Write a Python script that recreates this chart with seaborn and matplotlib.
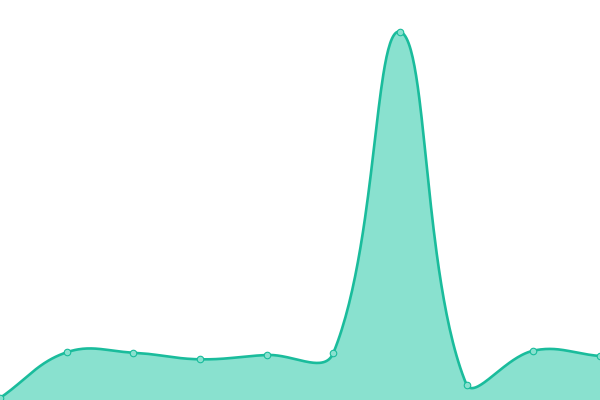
import numpy as np
import matplotlib
matplotlib.use("Agg")
import matplotlib.pyplot as plt
import seaborn as sns

# valores (altura acima da base, escala 0-400)
categories = list(range(10))
values = [2, 47.7, 47.3, 40.7, 45, 47, 368.3, 15, 49.3, 44]

line_color = '#1abc9c'
fill_color = '#89e1cf'
tension = 0.4

W, H = 600, 400
x_min, x_max = 0, 9
y_min, y_max = 0, 400

sns.set_theme(style='white')

# converte para pixels (para calcular a curva como no Chart.js)
px = (np.array(categories, float) - x_min) / (x_max - x_min) * W
py = (np.array(values, float) - y_min) / (y_max - y_min) * H
pts = np.column_stack([px, py])
n = len(pts)


def spline_controls(p0, p1, p2, t):
    d01 = np.hypot(*(p1 - p0))
    d12 = np.hypot(*(p2 - p1))
    s01 = d01 / (d01 + d12) if d01 + d12 > 0 else 0
    s12 = d12 / (d01 + d12) if d01 + d12 > 0 else 0
    fa = t * s01
    fb = t * s12
    prev = p1 - fa * (p2 - p0)
    nxt = p1 + fb * (p2 - p0)
    return prev, nxt


ctrl_prev, ctrl_next = [], []
for i in range(n):
    p0 = pts[i - 1] if i > 0 else pts[i]
    p2 = pts[i + 1] if i < n - 1 else pts[i]
    a, b = spline_controls(p0, pts[i], p2, tension)
    # limita os pontos de controle à área do gráfico
    a = np.clip(a, [0, 0], [W, H])
    b = np.clip(b, [0, 0], [W, H])
    ctrl_prev.append(a)
    ctrl_next.append(b)

curve = []
s = np.linspace(0, 1, 60)[:, None]
for i in range(n - 1):
    P0, C1, C2, P3 = pts[i], ctrl_next[i], ctrl_prev[i + 1], pts[i + 1]
    seg = (1 - s) ** 3 * P0 + 3 * (1 - s) ** 2 * s * C1 + 3 * (1 - s) * s ** 2 * C2 + s ** 3 * P3
    curve.append(seg if i == 0 else seg[1:])
curve = np.vstack(curve)
cx = curve[:, 0] / W * (x_max - x_min) + x_min
cy = curve[:, 1] / H * (y_max - y_min) + y_min

fig = plt.figure(figsize=(6, 4), dpi=100)
ax = fig.add_axes([0, 0, 1, 1])
ax.fill_between(cx, cy, y_min, color=fill_color, linewidth=0, zorder=1)
sns.lineplot(x=cx, y=cy, sort=False, color=line_color, linewidth=1.9, ax=ax, zorder=2)
sns.scatterplot(x=categories, y=values, s=22, color=fill_color, edgecolor=line_color,
                linewidth=0.8, ax=ax, zorder=3, clip_on=True)

ax.set_xlim(x_min, x_max)
ax.set_ylim(y_min, y_max)
ax.axis('off')
fig.savefig('out.png', dpi=100)
